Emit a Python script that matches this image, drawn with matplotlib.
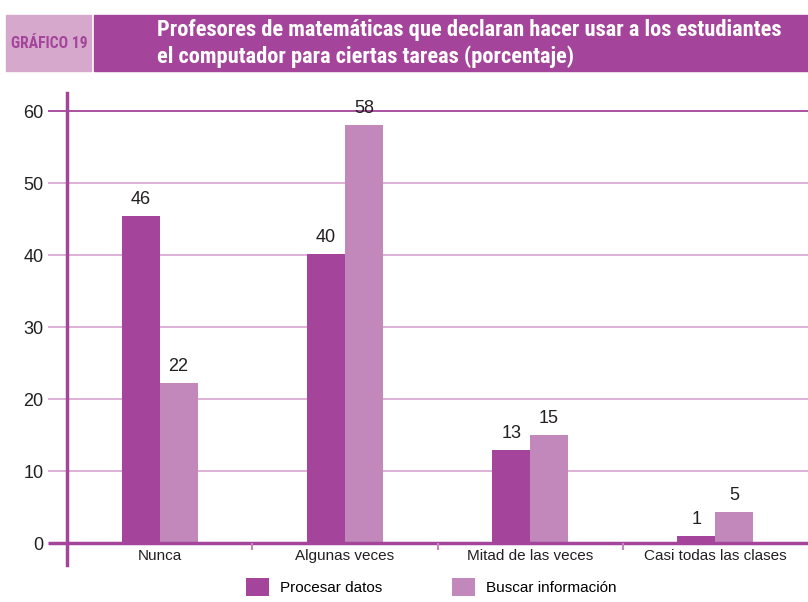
import numpy as np
import matplotlib.pyplot as plt
from matplotlib import font_manager
from matplotlib.patches import Rectangle

categories = ["Nunca", "Algunas veces", "Mitad de las veces", "Casi todas las clases"]
procesar = [45.5, 40.2, 13.0, 1.0]
buscar = [22.3, 58.1, 15.0, 4.4]
procesar_lbl = ["46", "40", "13", "1"]
buscar_lbl = ["22", "58", "15", "5"]
yticks = [0, 10, 20, 30, 40, 50, 60]

DARK = "#A4449A"
LIGHT = "#C288BB"
GRID = "#D9A3D0"
HEAD_LIGHT = "#D5A8CC"
TXT = "#231F20"

plt.rcParams["font.family"] = ["Liberation Sans", "DejaVu Sans"]

# pick a condensed face for the header if one is installed
installed = {f.name for f in font_manager.fontManager.ttflist}
narrow = next((n for n in ["Roboto Condensed", "Liberation Sans Narrow",
                           "DejaVu Sans Condensed", "Open Sans Condensed", "Roboto"]
               if n in installed), "DejaVu Sans")

W, H = 808, 602
fig = plt.figure(figsize=(W / 100, H / 100), dpi=100)
renderer = fig.canvas.get_renderer()


def fit(txt, width_px):
    # scale font so the (first line of the) text spans width_px
    bb = txt.get_window_extent(renderer)
    txt.set_fontsize(txt.get_fontsize() * width_px / bb.width)


# --- header ---
fig.patches.append(Rectangle((6 / W, 1 - 71 / H), 85 / W, 56 / H,
                             transform=fig.transFigure, color=HEAD_LIGHT, zorder=0))
fig.patches.append(Rectangle((94 / W, 1 - 71 / H), 714 / W, 56 / H,
                             transform=fig.transFigure, color=DARK, zorder=0))
t0 = fig.text(49 / W, 1 - 43 / H, "GRÁFICO 19", color=DARK, fontsize=12, fontweight="bold",
              family=[narrow, "DejaVu Sans"], ha="center", va="center")
fit(t0, 76)
t1 = fig.text(157 / W, 1 - 30 / H,
              "Profesores de matemáticas que declaran hacer usar a los estudiantes",
              color="white", fontsize=15, fontweight="bold",
              family=[narrow, "DejaVu Sans"], ha="left", va="center")
fit(t1, 626)
t2 = fig.text(157 / W, 1 - 57 / H, "el computador para ciertas tareas (porcentaje)",
              color="white", fontsize=t1.get_fontsize(), fontweight="bold",
              family=[narrow, "DejaVu Sans"], ha="left", va="center")

# --- plot ---
ax = fig.add_axes([67 / W, 1 - 565 / H, 741 / W, 472 / H])
x = np.arange(len(categories))
bw = 0.205
ax.set_xlim(-0.5, 3.5)
ax.set_ylim(-3, 62.5)

ax.hlines(yticks[1:-1], -0.603, 3.5, colors=GRID, lw=1.2, clip_on=False, zorder=1)
ax.hlines(60, -0.603, 3.5, colors=DARK, lw=1.3, clip_on=False, zorder=1)
ax.hlines(0, -0.603, 3.5, colors=DARK, lw=2.5, clip_on=False, zorder=4)
ax.vlines([0.5, 1.5, 2.5], -0.9, 0, colors=LIGHT, lw=1.5, zorder=4)

b1 = ax.bar(x - bw / 2, procesar, bw, color=DARK, zorder=3, label="Procesar datos")
b2 = ax.bar(x + bw / 2, buscar, bw, color=LIGHT, zorder=3, label="Buscar información")
for rects, labels in ((b1, procesar_lbl), (b2, buscar_lbl)):
    for r, t in zip(rects, labels):
        ax.text(r.get_x() + r.get_width() / 2, r.get_height() + 1.1, t,
                ha="center", va="bottom", fontsize=13, color=TXT)

for xi, c in zip(x, categories):
    ax.text(xi, -1.8, c, ha="center", va="center", fontsize=11, color=TXT)

ax.set_yticks(yticks)
ax.set_yticklabels([str(v) for v in yticks], fontsize=13, color=TXT)
ax.tick_params(axis="y", length=0, pad=17)
ax.set_xticks([])
for s in ("top", "right", "bottom"):
    ax.spines[s].set_visible(False)
ax.spines["left"].set_color(DARK)
ax.spines["left"].set_linewidth(2.5)

fig.legend(handles=[b1, b2], loc="center left", bbox_to_anchor=(246 / W, 1 - 587 / H),
           ncol=2, frameon=False, fontsize=11, handlelength=1.5, handleheight=1.5,
           columnspacing=4.6, handletextpad=0.7, borderaxespad=0, borderpad=0)

fig.savefig("out.png", dpi=100)
